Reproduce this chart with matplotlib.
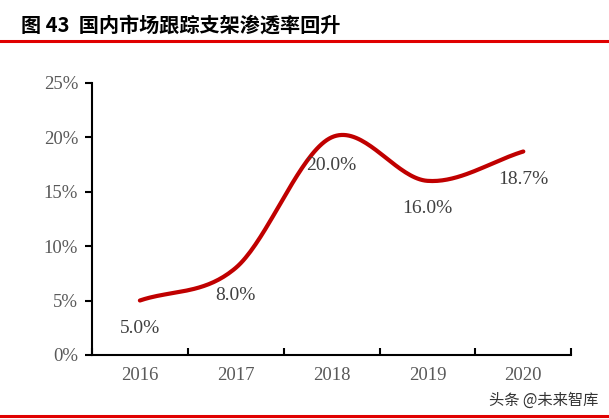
import numpy as np
import matplotlib
matplotlib.use("Agg")
import matplotlib.pyplot as plt
from matplotlib.lines import Line2D

years = ["2016", "2017", "2018", "2019", "2020"]
values = [5.0, 8.0, 20.0, 16.0, 18.7]
yticks = [0, 5, 10, 15, 20, 25]
title = "图 43  国内市场跟踪支架渗透率回升"
watermark = "头条 @未来智库"

def catmull_rom(x, y, n=40):
    x = np.asarray(x, float); y = np.asarray(y, float)
    px = np.concatenate([[2*x[0]-x[1]], x, [2*x[-1]-x[-2]]])
    py = np.concatenate([[2*y[0]-y[1]], y, [2*y[-1]-y[-2]]])
    xs, ys = [], []
    t = np.linspace(0, 1, n)
    for i in range(1, len(px)-2):
        p0, p1, p2, p3 = px[i-1], px[i], px[i+1], px[i+2]
        q0, q1, q2, q3 = py[i-1], py[i], py[i+1], py[i+2]
        c1x, c1y = p1 + (p2-p0)/6, q1 + (q2-q0)/6
        c2x, c2y = p2 - (p3-p1)/6, q2 - (q3-q1)/6
        bx = (1-t)**3*p1 + 3*(1-t)**2*t*c1x + 3*(1-t)*t**2*c2x + t**3*p2
        by = (1-t)**3*q1 + 3*(1-t)**2*t*c1y + 3*(1-t)*t**2*c2y + t**3*q2
        xs.append(bx); ys.append(by)
    return np.concatenate(xs), np.concatenate(ys)

fig = plt.figure(figsize=(6.09, 4.19), dpi=100)
ax = fig.add_axes([0.151, 0.153, 0.787, 0.649])

xpos = np.arange(len(years))
sx, sy = catmull_rom(xpos, values)
ax.plot(sx, sy, color="#C00000", lw=3, solid_capstyle="round")

serif = ["Liberation Serif", "DejaVu Serif"]
for xi, v in zip(xpos, values):
    ax.annotate(f"{v:.1f}%", (xi, v), xytext=(0, -20), textcoords="offset points",
                ha="center", va="center", fontsize=14, color="#404040", family=serif)

ax.set_xlim(-0.5, len(years)-0.5)
ax.set_ylim(0, 25)
ax.set_yticks(yticks)
ax.set_yticklabels([f"{t}%" for t in yticks], family=serif, fontsize=13.5, color="#595959")
ax.set_xticks(xpos)
ax.set_xticklabels(years, family=serif, fontsize=13.5, color="#595959")
ax.set_xticks(np.arange(-0.5, len(years), 1), minor=True)
ax.tick_params(axis="x", which="major", length=0, pad=9)
ax.tick_params(axis="x", which="minor", length=5, width=1.5, direction="in", color="black")
ax.tick_params(axis="y", length=5, width=1.5, direction="out", color="black", pad=5)
for s in ["top", "right"]:
    ax.spines[s].set_visible(False)
for s in ["left", "bottom"]:
    ax.spines[s].set_linewidth(1.5)
    ax.spines[s].set_color("black")

fig.text(0.035, 0.94, title, fontsize=14.5, fontweight="bold",
         family=["Noto Sans CJK SC", "DejaVu Sans"], ha="left", va="center", color="black")
fig.add_artist(Line2D([0, 1], [0.903, 0.903], transform=fig.transFigure, color="#E00000", lw=2.2))
fig.add_artist(Line2D([0, 1], [0.008, 0.008], transform=fig.transFigure, color="#E00000", lw=2.2))
fig.text(0.982, 0.045, watermark, fontsize=11, family=["Noto Sans CJK SC", "DejaVu Sans"],
         ha="right", va="center", color="#333333")

fig.savefig("out.png", dpi=100, facecolor="white")
